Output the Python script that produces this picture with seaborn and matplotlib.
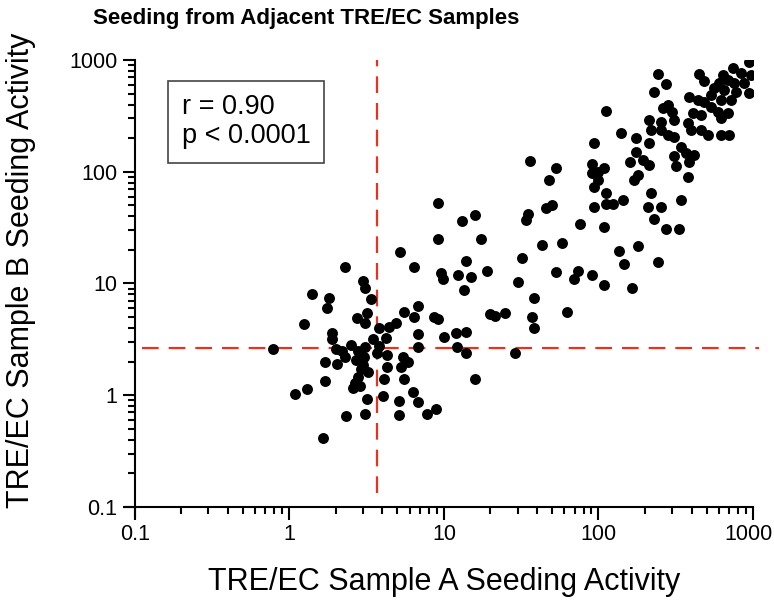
import matplotlib
matplotlib.use("Agg")
import matplotlib.pyplot as plt
import matplotlib.transforms as mtransforms
import seaborn as sns
import pandas as pd
from matplotlib.ticker import LogLocator, NullFormatter

# values (sample A, sample B)
low_a = [9.2, 16, 13, 9.2, 17.5, 5.2, 2.3, 6.4, 14, 12.4, 9.6, 9.8, 15, 13.4, 3.0, 3.1,
         1.4, 1.8, 3.4, 1.76, 6.8, 5.5, 6.4, 3.2, 2.75, 3.1, 8.6, 9.2, 1.25, 4.9, 4.4, 3.8,
         1.9, 6.8, 10, 12, 14, 1.9, 3.5, 4.2, 2.5, 2.0, 0.78, 3.1, 3.8, 6.8, 12.2, 14,
         1.7, 2.05, 2.3, 2.7, 3.06, 3.7, 4.3, 5.4, 5.9, 5.3, 4.3, 3.0, 2.9, 3.25, 2.8, 4.1,
         5.5, 1.7, 2.67, 2.6, 2.85, 1.3, 1.09, 6.35, 4.06, 3.2, 5.15, 6.8, 8.9, 7.8, 2.34,
         3.1, 5.1, 16, 1.66, 2.2, 2.8]
low_b = [53, 41, 36, 25, 25, 19, 14, 14, 16, 12, 12.4, 11, 11.4, 8.7, 10.5, 9.1,
         8.0, 7.4, 7.2, 6.0, 6.3, 5.5, 5.0, 5.4, 4.9, 4.4, 5.0, 4.8, 4.3, 4.4, 4.1, 4.0,
         3.6, 3.5, 3.3, 3.6, 3.7, 3.2, 3.2, 3.25, 2.8, 2.6, 2.6, 2.7, 2.75, 2.7, 2.7, 2.4,
         2.0, 1.9, 2.2, 2.05, 2.2, 2.4, 2.3, 2.2, 2.0, 1.8, 1.8, 1.85, 1.7, 1.6, 1.45, 1.4,
         1.4, 1.35, 1.28, 1.15, 1.2, 1.13, 1.02, 1.06, 0.98, 0.92, 0.88, 0.87, 0.75, 0.68, 0.65,
         0.68, 0.66, 1.4, 0.41, 2.5, 2.5]

mid_a = [19, 32, 30, 38, 20, 21.5, 25, 37, 38, 29, 43, 58, 53, 69, 74, 91, 109, 63,
         76, 109, 135, 147, 179, 164, 244, 227, 208, 252, 275, 330, 340, 93, 111, 125, 143,
         34, 35, 46, 50, 217, 111, 36, 53, 48, 91, 99, 108, 91, 100, 93, 111, 94, 383, 315,
         377, 161, 193, 211, 179, 169]
mid_b = [13, 17, 10.3, 7.4, 5.3, 5.1, 5.4, 5.0, 4.0, 2.4, 22, 23, 12.6, 11, 12.9, 12, 9.6, 5.6,
         34, 32, 19.4, 15, 21.5, 9.1, 15.5, 38, 48, 48, 31, 31, 56, 48, 51, 52, 56,
         37, 42, 47, 50, 64, 64, 124, 107, 84, 117, 99, 107, 97, 84, 73, 350, 180, 122, 112,
         89, 122, 127, 114, 93, 84]

high_a = [935, 241, 275, 227, 444, 478, 737, 830, 964, 635, 684, 598, 748, 868, 555, 644,
          771, 935, 531, 616, 715, 383, 437, 478, 280, 260, 301, 211, 252, 306, 406, 457,
          589, 684, 616, 377, 394, 457, 508, 616, 694, 217, 252, 280, 306, 174, 139, 211,
          340, 366, 306, 412, 174, 531]
high_b = [955, 745, 607, 514, 745, 645, 844, 761, 731, 731, 659, 620, 620, 620, 559, 536,
          514, 504, 484, 436, 436, 464, 436, 419, 394, 370, 341, 289, 277, 289, 334, 320,
          341, 334, 301, 272, 235, 235, 212, 212, 212, 235, 235, 212, 204, 199, 221, 180,
          166, 146, 138, 141, 149, 378]

r_text = "r = 0.90\np < 0.0001"
cut_a = 3.7
cut_b = 2.63
tick_vals = [0.1, 1, 10, 100, 1000]
tick_labels = ["0.1", "1", "10", "100", "1000"]

df = pd.DataFrame({"a": low_a + mid_a + high_a, "b": low_b + mid_b + high_b})

sns.set_style("ticks")
plt.rcParams["font.family"] = ["Liberation Sans", "DejaVu Sans"]
plt.rcParams["text.color"] = "black"
plt.rcParams["axes.labelcolor"] = "black"

fig = plt.figure(figsize=(7.74, 6.07), dpi=100)
ax = fig.add_axes([0.174, 0.165, 0.799, 0.736])

sns.scatterplot(data=df, x="a", y="b", ax=ax, color="black", s=62, linewidth=0, zorder=3)

ax.set_xscale("log")
ax.set_yscale("log")
ax.set_xlim(0.1, 1000)
ax.set_ylim(0.1, 1000)

red = "#e8321e"
ax.axvline(cut_a, ymin=0.03, ymax=1.0, color=red, lw=1.6, dashes=(7.5, 4.5), zorder=2)
ax.axhline(cut_b, xmin=0.012, xmax=1.01, color=red, lw=1.6, dashes=(7.5, 4.5), zorder=2, clip_on=False)

ax.set_xticks(tick_vals)
ax.set_xticklabels(tick_labels)
ax.set_yticks(tick_vals)
ax.set_yticklabels(tick_labels)
for axis in (ax.xaxis, ax.yaxis):
    axis.set_minor_locator(LogLocator(base=10, subs=range(2, 10), numticks=20))
    axis.set_minor_formatter(NullFormatter())

ax.tick_params(which="major", length=9, width=1.5, labelsize=15.5, color="black", labelcolor="black")
ax.tick_params(which="minor", length=5, width=1.5, color="black")
sns.despine(ax=ax)
for sp in ("left", "bottom"):
    ax.spines[sp].set_linewidth(1.5)
    ax.spines[sp].set_color("black")
ax.spines["left"].set_bounds(0.081, 1000)
ax.spines["bottom"].set_bounds(0.086, 1000)

# nudge the last x tick label so it stays inside the figure
last = ax.get_xticklabels()[-1]
last.set_transform(last.get_transform() + mtransforms.ScaledTranslation(-5 / 100, 0, fig.dpi_scale_trans))

ax.set_xlabel("TRE/EC Sample A Seeding Activity", fontsize=22, labelpad=16)
ax.set_ylabel("TRE/EC Sample B Seeding Activity", fontsize=22)
ax.yaxis.set_label_coords(-0.159, 0.53)

ax.text(0.076, 0.923, r_text, transform=ax.transAxes, fontsize=19.5, va="top", ha="left",
        linespacing=1.15,
        bbox=dict(boxstyle="square,pad=0.5", facecolor="white", edgecolor="#444444", linewidth=1.2))

fig.text(0.395, 0.970, "Seeding from Adjacent TRE/EC Samples", ha="center", va="center",
         fontsize=16, fontweight="bold", color="black")

fig.savefig("out.png", dpi=100)
